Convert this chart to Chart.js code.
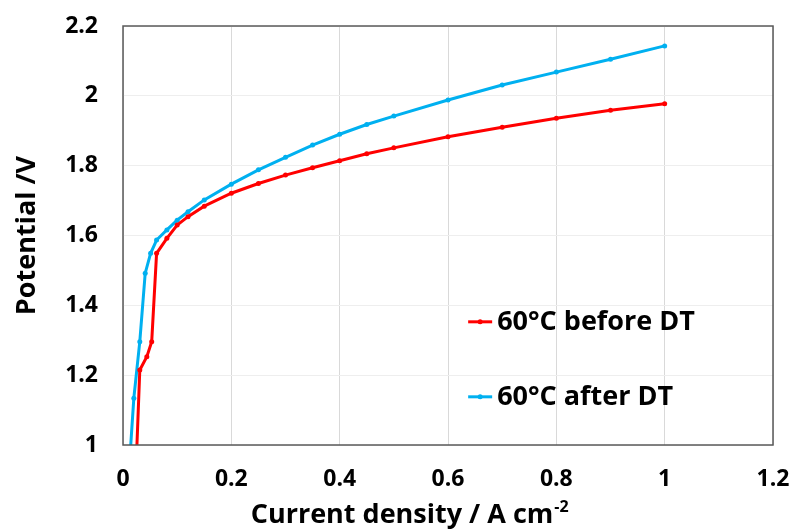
<!DOCTYPE html>
<html>
<head>
<meta charset="utf-8">
<script src="https://cdn.jsdelivr.net/npm/chart.js@4.4.1/dist/chart.umd.min.js"></script>
<style>
    html, body { margin: 0; padding: 0; background: #fff; }
</style>
</head>
<body>
<canvas id="myChart" width="794" height="530"></canvas>
<script>
// current density (A cm-2) and cell potential (V)
var corriente_antes = [0.025, 0.031, 0.044, 0.053, 0.062, 0.081, 0.1, 0.12, 0.15, 0.2, 0.25, 0.3, 0.35, 0.4, 0.45, 0.5, 0.6, 0.7, 0.8, 0.9, 1.0]
var potencial_antes = [0.97, 1.215, 1.253, 1.296, 1.549, 1.592, 1.63, 1.654, 1.684, 1.721, 1.749, 1.773, 1.794, 1.814, 1.834, 1.851, 1.883, 1.91, 1.936, 1.959, 1.977]

var corriente_despues = [0.013, 0.02, 0.031, 0.041, 0.051, 0.062, 0.081, 0.1, 0.12, 0.15, 0.2, 0.25, 0.3, 0.35, 0.4, 0.45, 0.5, 0.6, 0.7, 0.8, 0.9, 1.0]
var potencial_despues = [0.97, 1.134, 1.296, 1.492, 1.549, 1.587, 1.616, 1.644, 1.668, 1.702, 1.747, 1.788, 1.824, 1.859, 1.89, 1.918, 1.942, 1.988, 2.031, 2.068, 2.105, 2.143]

var etiquetas = ['60°C before DT', '60°C after DT']
var colores = ['#ff0000', '#00b0f0']

var x_ticks = [0, 0.2, 0.4, 0.6, 0.8, 1, 1.2]
var y_ticks = [1, 1.2, 1.4, 1.6, 1.8, 2, 2.2]

var fuente = 'Open Sans'

function puntos(xs, ys) {
    var lista = []
    for (var i = 0; i < xs.length; i++) {
        lista.push({ x: xs[i], y: ys[i] })
    }
    return lista
}

function serie(indice, xs, ys) {
    return {
        label: etiquetas[indice],
        data: puntos(xs, ys),
        showLine: true,
        borderColor: colores[indice],
        backgroundColor: colores[indice],
        borderWidth: 3,
        pointRadius: 2.5,
        pointBorderWidth: 0,
        pointHoverRadius: 2.5,
        tension: 0
    }
}

// frame round the plot area, legend inside it, x title with superscript
var marco = {
    id: 'marco',
    afterDatasetsDraw: function (chart) {
        var ctx = chart.ctx
        var a = chart.chartArea
        var ancho = a.right - a.left
        var alto = a.bottom - a.top
        ctx.save()
        ctx.strokeStyle = '#595959'
        ctx.lineWidth = 1.5
        ctx.strokeRect(a.left, a.top, ancho, alto)

        var filas = [0.706, 0.885]
        chart.data.datasets.forEach(function (ds, i) {
            var x0 = a.left + ancho * 0.531
            var y = a.top + alto * filas[i]
            ctx.strokeStyle = ds.borderColor
            ctx.lineWidth = 3
            ctx.beginPath()
            ctx.moveTo(x0, y)
            ctx.lineTo(x0 + 24, y)
            ctx.stroke()
            ctx.fillStyle = ds.borderColor
            ctx.beginPath()
            ctx.arc(x0 + 12, y, 2.5, 0, Math.PI * 2)
            ctx.fill()
            ctx.fillStyle = '#000'
            ctx.font = 'bold 27px "' + fuente + '"'
            ctx.textBaseline = 'middle'
            ctx.textAlign = 'left'
            ctx.fillText(ds.label, x0 + 29, y)
        })

        // x axis title
        var texto = 'Current density / A cm'
        var sup = '-2'
        ctx.fillStyle = '#000'
        ctx.textBaseline = 'alphabetic'
        ctx.textAlign = 'left'
        ctx.font = 'bold 27px "' + fuente + '"'
        var w1 = ctx.measureText(texto).width
        ctx.font = 'bold 16px "' + fuente + '"'
        var w2 = ctx.measureText(sup).width
        var cx = a.left + ancho * 0.441
        var base = a.bottom + 78
        var x1 = cx - (w1 + w2 + 1) / 2
        ctx.font = 'bold 27px "' + fuente + '"'
        ctx.fillText(texto, x1, base)
        ctx.font = 'bold 16px "' + fuente + '"'
        ctx.fillText(sup, x1 + w1 + 1, base - 11)
        ctx.restore()
    }
}

function formato(v) {
    return String(Number(v.toFixed(1)))
}

var ctx = document.getElementById('myChart').getContext('2d')
new Chart(ctx, {
    type: 'scatter',
    data: {
        datasets: [
            serie(0, corriente_antes, potencial_antes),
            serie(1, corriente_despues, potencial_despues)
        ]
    },
    options: {
        responsive: false,
        animation: false,
        layout: { padding: { top: 26, right: 21, left: 0, bottom: 0 } },
        plugins: {
            legend: { display: false },
            tooltip: { enabled: false }
        },
        scales: {
            x: {
                type: 'linear',
                min: x_ticks[0],
                max: x_ticks[x_ticks.length - 1],
                afterBuildTicks: function (scale) {
                    scale.ticks = x_ticks.map(function (v) { return { value: v } })
                },
                afterFit: function (scale) {
                    scale.height = 85
                    scale.paddingLeft = 0
                    scale.paddingRight = 0
                },
                ticks: {
                    callback: formato,
                    color: '#000',
                    padding: 21,
                    maxRotation: 0,
                    font: { family: fuente, size: 23, weight: 'bold' }
                },
                grid: { color: '#d9d9d9', drawTicks: false },
                border: { display: false }
            },
            y: {
                type: 'linear',
                min: y_ticks[0],
                max: y_ticks[y_ticks.length - 1],
                afterBuildTicks: function (scale) {
                    scale.ticks = y_ticks.map(function (v) { return { value: v } })
                },
                afterFit: function (scale) {
                    scale.width = 123
                    scale.paddingTop = 0
                    scale.paddingBottom = 0
                },
                ticks: {
                    callback: formato,
                    color: '#000',
                    padding: 25,
                    font: { family: fuente, size: 23, weight: 'bold' }
                },
                grid: { color: '#eeeeee', drawTicks: false },
                border: { display: false },
                title: {
                    display: true,
                    text: 'Potential /V',
                    color: '#000',
                    padding: { top: 11, bottom: 11 },
                    font: { family: fuente, size: 27, weight: 'bold' }
                }
            }
        }
    },
    plugins: [marco]
})
</script>
</body>
</html>
